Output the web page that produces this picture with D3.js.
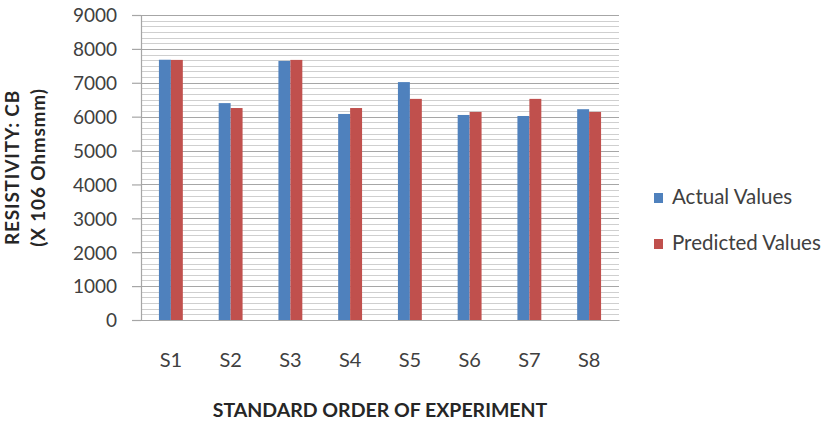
<!DOCTYPE html>
<html>
<head>
<meta charset="utf-8">
<script src="https://cdn.jsdelivr.net/npm/d3@7"></script>
<style>
  body { margin: 0; background: #fff; }
  svg { display: block; }
</style>
</head>
<body>
<div id="chart"></div>
<script>
// data
const categories = ['S1', 'S2', 'S3', 'S4', 'S5', 'S6', 'S7', 'S8'];
const actualValues = [7680, 6400, 7645, 6080, 7020, 6050, 6020, 6220];
const predictedValues = [7675, 6255, 7675, 6255, 6525, 6140, 6525, 6140];
const seriesNames = ['Actual Values', 'Predicted Values'];
const yTicks = [0, 1000, 2000, 3000, 4000, 5000, 6000, 7000, 8000, 9000];

const colors = ['#4f81bd', '#c0504d'];

let width = 825, height = 424;
let margin = {top: 15, right: 206, bottom: 104, left: 141};
let w = width - margin.left - margin.right,
    h = height - margin.top - margin.bottom;

let svg = d3.select('#chart')
  .append('svg')
    .attr('width', width)
    .attr('height', height)
  .append('g')
    .attr('transform', 'translate(' + margin.left + ',' + margin.top + ')');

let x = d3.scaleBand()
  .domain(categories)
  .range([0, w])
  .paddingInner(0)
  .paddingOuter(0);

let y = d3.scaleLinear()
  .domain([0, 9000])
  .range([h, 0]);

// minor gridlines (6 per major step)
let minor = [];
yTicks.slice(0, -1).forEach(t => {
  for (let k = 1; k < 6; k++) minor.push(t + k * 1000 / 6);
});
svg.append('g')
  .selectAll('line')
  .data(minor)
  .enter()
  .append('line')
    .attr('x1', 0).attr('x2', w)
    .attr('y1', d => Math.round(y(d)) + 0.5)
    .attr('y2', d => Math.round(y(d)) + 0.5)
    .attr('stroke', '#cfcfcf')
    .attr('stroke-width', 1);

// major gridlines
svg.append('g')
  .selectAll('line')
  .data(yTicks)
  .enter()
  .append('line')
    .attr('x1', 0).attr('x2', w)
    .attr('y1', d => Math.round(y(d)) + 0.5)
    .attr('y2', d => Math.round(y(d)) + 0.5)
    .attr('stroke', '#a6a6a6')
    .attr('stroke-width', 1.2);

// y axis
let yAxis = svg.append('g')
  .attr('class', 'y-axis')
  .call(d3.axisLeft(y).tickValues(yTicks).tickSize(9).tickPadding(15).tickFormat(d3.format('d')));
yAxis.select('.domain').attr('stroke', '#a6a6a6').attr('stroke-width', 1.2);
yAxis.selectAll('.tick line').attr('stroke', '#a6a6a6').attr('stroke-width', 1.2);
yAxis.selectAll('text')
  .attr('font-family', 'Lato')
  .attr('font-size', 19)
  .attr('fill', '#404040')
  .attr('dy', '0.36em');

// bars
let barW = x.bandwidth() / 5;
[actualValues, predictedValues].forEach((vals, s) => {
  svg.append('g')
    .selectAll('rect')
    .data(vals)
    .enter()
    .append('rect')
      .attr('x', (d, i) => x(categories[i]) + (x.bandwidth() - 2 * barW) / 2 + s * barW)
      .attr('y', d => y(d))
      .attr('width', barW)
      .attr('height', d => h - y(d))
      .attr('fill', colors[s]);
});

// x axis
let xAxis = svg.append('g')
  .attr('transform', 'translate(0,' + h + ')')
  .call(d3.axisBottom(x).tickSize(0).tickPadding(33));
xAxis.select('.domain').attr('stroke', '#a6a6a6').attr('stroke-width', 1.2);
xAxis.selectAll('text')
  .attr('font-family', 'Lato')
  .attr('font-size', 20)
  .attr('fill', '#404040');

// X label
svg.append('text')
  .attr('text-anchor', 'middle')
  .attr('x', w / 2)
  .attr('y', h + 97)
  .attr('font-family', 'Lato')
  .attr('font-weight', 'bold')
  .attr('font-size', 19.5)
  .attr('fill', '#262626')
  .text('STANDARD ORDER OF EXPERIMENT');

// Y label (two lines)
let yl = svg.append('text')
  .attr('text-anchor', 'middle')
  .attr('transform', 'translate(' + (-margin.left + 19) + ',' + (h / 2) + ')rotate(-90)')
  .attr('font-family', 'Lato')
  .attr('font-weight', 'bold')
  .attr('font-size', 19)
  .attr('letter-spacing', 0.8)
  .attr('fill', '#262626');
yl.append('tspan').attr('x', 0).attr('dy', 0).text('RESISTIVITY: CB');
yl.append('tspan').attr('x', 0).attr('dy', 26).text('(X 106 Ohmsmm)');

// legend
let legend = svg.append('g')
  .attr('transform', 'translate(' + (w + 35) + ',' + 189 + ')');
seriesNames.forEach((name, i) => {
  let g = legend.append('g').attr('transform', 'translate(0,' + (i * 46) + ')');
  g.append('rect')
    .attr('x', 0).attr('y', -11)
    .attr('width', 9).attr('height', 10)
    .attr('fill', colors[i]);
  g.append('text')
    .attr('x', 18).attr('y', 0)
    .attr('font-family', 'Lato')
    .attr('font-size', 20.5)
    .attr('fill', '#404040')
    .text(name);
});
</script>
</body>
</html>
